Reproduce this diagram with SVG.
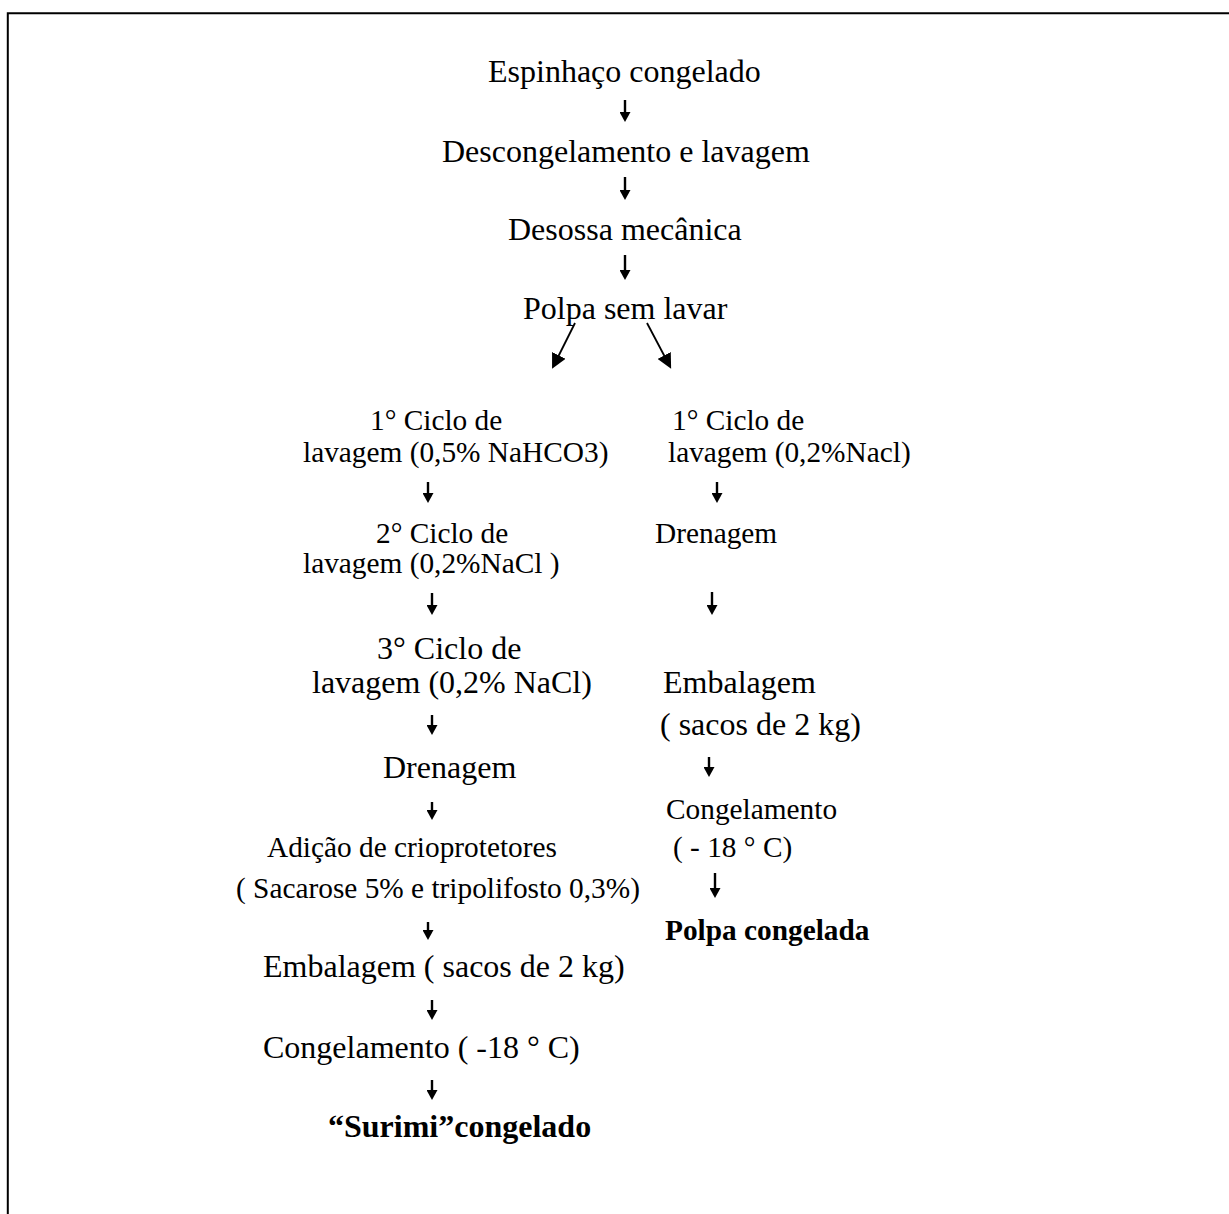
<svg xmlns="http://www.w3.org/2000/svg" width="1229" height="1214" viewBox="0 0 1229 1214">
<style>
text { font-family: "Liberation Serif", "Times New Roman", serif; fill: #000; }
.t32 { font-size: 32px; }
.t29 { font-size: 29.33px; }
.b { font-weight: bold; }
.arr { stroke: #000; stroke-width: 2.4; fill: none; marker-end: url(#head); }
.diag { stroke: #000; stroke-width: 1.8; fill: none; marker-end: url(#bighead); }
.frame { stroke: #000; stroke-width: 2; fill: none; }
</style>
<defs>
<marker id="head" markerUnits="userSpaceOnUse" markerWidth="10" markerHeight="11" viewBox="0 0 10 11" refX="3" refY="5.5" orient="auto">
<path d="M0,0 L10,5.5 L0,11 z" fill="#000"/>
</marker>
<marker id="bighead" markerUnits="userSpaceOnUse" markerWidth="15" markerHeight="15" viewBox="0 0 15 15" refX="4" refY="7.5" orient="auto">
<path d="M0,0 L15,7.5 L0,15 z" fill="#000"/>
</marker>
</defs>
<rect width="1229" height="1214" fill="#fff"/>
<g id="frame">
<path class="frame" d="M7.8,1214 L7.8,13.2 L1229,13.2"/>
</g>
<g id="connectors">
<line class="arr" x1="625" y1="100" x2="625" y2="115"/>
<line class="arr" x1="625" y1="177" x2="625" y2="193"/>
<line class="arr" x1="625" y1="255" x2="625" y2="273"/>
<line class="diag" x1="575" y1="323" x2="557" y2="359"/>
<line class="diag" x1="647" y1="323" x2="666" y2="359"/>
<line class="arr" x1="428" y1="482" x2="428" y2="496"/>
<line class="arr" x1="432" y1="593" x2="432" y2="608"/>
<line class="arr" x1="432" y1="715" x2="432" y2="728"/>
<line class="arr" x1="432" y1="802" x2="432" y2="813"/>
<line class="arr" x1="428" y1="922" x2="428" y2="933"/>
<line class="arr" x1="432" y1="1000" x2="432" y2="1013"/>
<line class="arr" x1="432" y1="1080" x2="432" y2="1093"/>
<line class="arr" x1="717" y1="482" x2="717" y2="496"/>
<line class="arr" x1="712" y1="592" x2="712" y2="608"/>
<line class="arr" x1="709" y1="757" x2="709" y2="770"/>
<line class="arr" x1="715" y1="873" x2="715" y2="891"/>
</g>
<g id="n-espinhaco"><text class="t32" x="488" y="82">Espinhaço congelado</text></g>
<g id="n-descongelamento"><text class="t32" x="442" y="162">Descongelamento e lavagem</text></g>
<g id="n-desossa"><text class="t32" x="508" y="240">Desossa mecânica</text></g>
<g id="n-polpa"><text class="t32" x="523" y="319">Polpa sem lavar</text></g>
<g id="n-l-ciclo1"><text class="t29" x="370" y="430">1° Ciclo de</text><text class="t29" x="303" y="462">lavagem (0,5% NaHCO3)</text></g>
<g id="n-l-ciclo2"><text class="t29" x="376" y="543">2° Ciclo de</text><text class="t29" x="303" y="573">lavagem (0,2%NaCl )</text></g>
<g id="n-l-ciclo3"><text class="t32" x="377" y="659">3° Ciclo de</text><text class="t32" x="312" y="693">lavagem (0,2% NaCl)</text></g>
<g id="n-l-drenagem"><text class="t32" x="383" y="778">Drenagem</text></g>
<g id="n-l-adicao"><text class="t29" x="267" y="857">Adição de crioprotetores</text><text class="t29" x="236" y="898">( Sacarose 5% e tripolifosto 0,3%)</text></g>
<g id="n-l-embalagem"><text class="t32" x="263" y="977">Embalagem ( sacos de 2 kg)</text></g>
<g id="n-l-congelamento"><text class="t32" x="263" y="1058">Congelamento ( -18 ° C)</text></g>
<g id="n-l-surimi"><text class="t32 b" x="328" y="1137">“Surimi”congelado</text></g>
<g id="n-r-ciclo1"><text class="t29" x="672" y="430">1° Ciclo de</text><text class="t29" x="668" y="462">lavagem (0,2%Nacl)</text></g>
<g id="n-r-drenagem"><text class="t29" x="655" y="543">Drenagem</text></g>
<g id="n-r-embalagem"><text class="t32" x="663" y="693">Embalagem</text><text class="t32" x="660" y="735">( sacos de 2 kg)</text></g>
<g id="n-r-congelamento"><text class="t29" x="666" y="819">Congelamento</text><text class="t29" x="673" y="857">( - 18 ° C)</text></g>
<g id="n-r-polpa"><text class="t29 b" x="665" y="940">Polpa congelada</text></g>
</svg>
